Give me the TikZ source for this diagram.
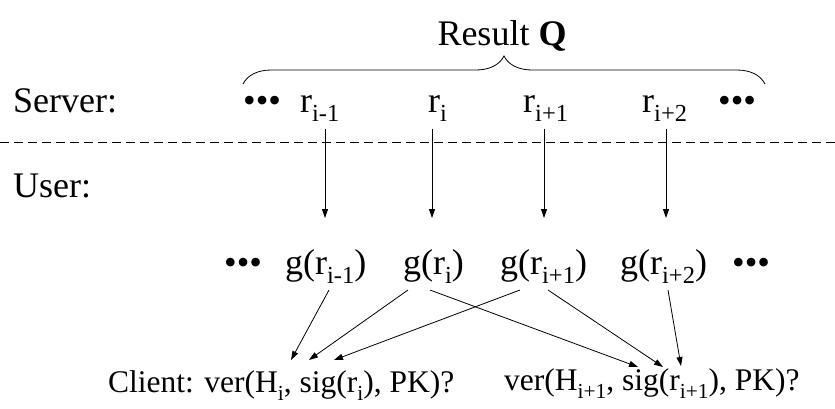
\documentclass[tikz,border=0pt]{standalone}
\usepackage{fontspec}
\setmainfont{Liberation Serif}
\usetikzlibrary{arrows.meta,decorations.pathreplacing}
\newcommand{\sbs}[1]{\raisebox{-0.26em}{\scalebox{0.68}{#1}}}
\begin{document}
\begin{tikzpicture}[x=1pt,y=-1pt,
  big/.style={font=\fontsize{36}{40}\selectfont, inner sep=0pt, anchor=base west},
  small/.style={font=\fontsize{31.5}{34}\selectfont, inner sep=0pt, anchor=base west},
  arr/.style={line width=0.8pt, -{Triangle[length=9pt,width=6pt]}}]
\useasboundingbox (0,0) rectangle (835,408);
% top
\node[big, anchor=base] (res) at (502,45) {Result \textbf{Q}};
\coordinate (bl) at (243,84);
\coordinate (br) at (765,84);
\draw[line width=0.8pt, decorate, decoration={brace, amplitude=28pt}] (bl) -- (br);
\node[big] (srv) at (13,112) {Server:};
\node[big] (d1) at (243,112) {•••};
\node[big] (r1) at (300,112) {r\sbs{i-1}};
\node[big] (r2) at (428,112) {r\sbs{i}};
\node[big] (r3) at (523,112) {r\sbs{i+1}};
\node[big] (r4) at (642,112) {r\sbs{i+2}};
\node[big] (d2) at (718,112) {•••};
\coordinate (dl) at (0,142);
\coordinate (dr) at (835,142);
\draw[line width=0.8pt, dash pattern=on 9pt off 5pt] (dl) -- (dr);
\node[big] (usr) at (13,197) {User:};
% second row
\node[big] (d3) at (224,274) {•••};
\node[big] (g1) at (285,274) {g(r\sbs{i-1})};
\node[big] (g2) at (403,274) {g(r\sbs{i})};
\node[big] (g3) at (500,274) {g(r\sbs{i+1})};
\node[big] (g4) at (620,274) {g(r\sbs{i+2})};
\node[big] (d4) at (732,274) {•••};
% vertical arrows
\coordinate (u1) at (325,129);
\coordinate (u2) at (432,129);
\coordinate (u3) at (544,129);
\coordinate (u4) at (666,129);
\coordinate (v1) at (325,218);
\coordinate (v2) at (432,218);
\coordinate (v3) at (544,218);
\coordinate (v4) at (666,218);
\draw[arr] (u1) -- (v1);
\draw[arr] (u2) -- (v2);
\draw[arr] (u3) -- (v3);
\draw[arr] (u4) -- (v4);
% bottom labels
\node[small] (cl) at (108,392) {Client: ver(H\sbs{i}, sig(r\sbs{i}), PK)?};
\node[small] (cr) at (504,390) {ver(H\sbs{i+1}, sig(r\sbs{i+1}), PK)?};
\coordinate (s1) at (329,290);
\coordinate (s2) at (408,290);
\coordinate (s3) at (520,290);
\coordinate (s4) at (430,290);
\coordinate (s5) at (548,290);
\coordinate (s6) at (668,290);
\coordinate (e1) at (291,360);
\coordinate (e2) at (309,360);
\coordinate (e3) at (334,360);
\coordinate (e4) at (638,367);
\coordinate (e5) at (663,367);
\coordinate (e6) at (681,366);
\draw[arr] (s1) -- (e1);
\draw[arr] (s2) -- (e2);
\draw[arr] (s3) -- (e3);
\draw[arr] (s4) -- (e4);
\draw[arr] (s5) -- (e5);
\draw[arr] (s6) -- (e6);
\end{tikzpicture}
\end{document}
